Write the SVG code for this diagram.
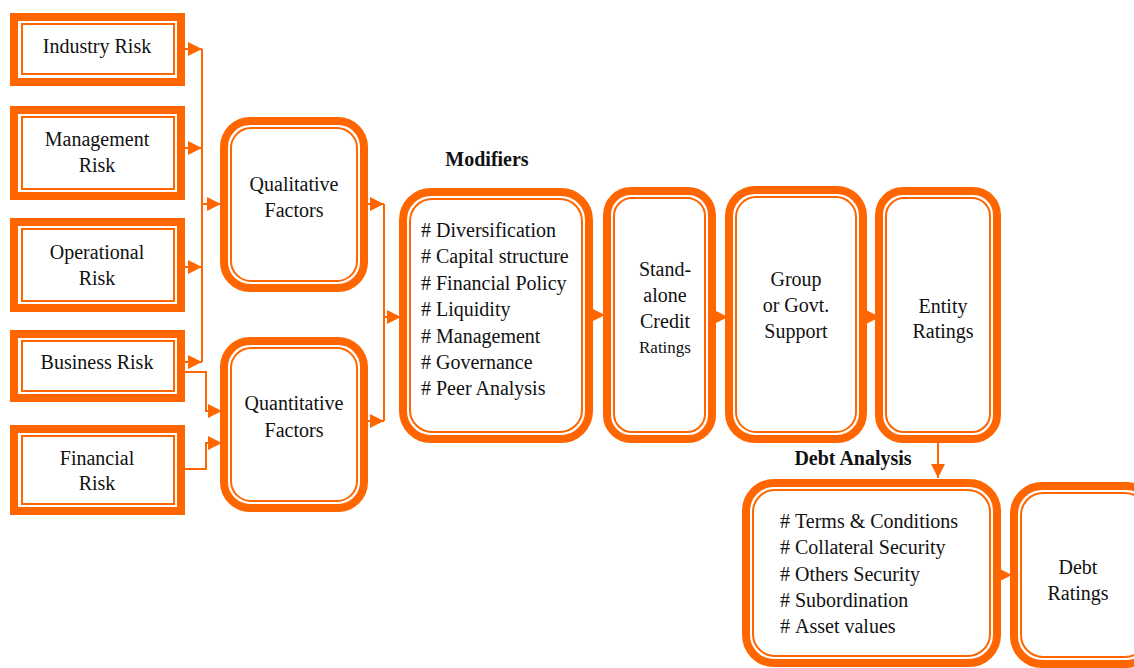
<svg xmlns="http://www.w3.org/2000/svg" width="1134" height="668" viewBox="0 0 1134 668">
<defs>
<style>
.thick{fill:none;stroke:#FF6600;stroke-width:8}
.thin{fill:none;stroke:#FF6600;stroke-width:2}
.t{font-family:"Liberation Serif","Times New Roman",serif;font-size:20px;fill:#111}
.c{text-anchor:middle}
.b{font-weight:bold}
.con{fill:none;stroke:#FF6600;stroke-width:2}
</style>
<marker id="arr" viewBox="0 0 14 14" refX="14" refY="7" markerWidth="14" markerHeight="14" markerUnits="userSpaceOnUse" orient="auto">
<path d="M0,0 L14,7 L0,14 Z" fill="#FF6600"/>
</marker>
</defs>
<rect width="1134" height="668" fill="#fff"/>

<g id="connectors">
<path class="con" d="M185,49 H202" marker-end="url(#arr)"/>
<path class="con" d="M185,148 H202" marker-end="url(#arr)"/>
<path class="con" d="M185,267 H202" marker-end="url(#arr)"/>
<path class="con" d="M185,362 H202" marker-end="url(#arr)"/>
<path class="con" d="M202,49 V362"/>
<path class="con" d="M202,204 H221" marker-end="url(#arr)"/>
<path class="con" d="M185,372 H206 V411 H222" marker-end="url(#arr)"/>
<path class="con" d="M185,469 H206 V443 H222" marker-end="url(#arr)"/>
<path class="con" d="M368,204 H384" marker-end="url(#arr)"/>
<path class="con" d="M368,421 H384" marker-end="url(#arr)"/>
<path class="con" d="M384,204 V421"/>
<path class="con" d="M384,317 H401" marker-end="url(#arr)"/>
<path class="con" d="M593,315 H605" marker-end="url(#arr)"/>
<path class="con" d="M716,317 H728" marker-end="url(#arr)"/>
<path class="con" d="M867,317 H880" marker-end="url(#arr)"/>
<path class="con" d="M938,443 V478" marker-end="url(#arr)"/>
<path class="con" d="M1001,575 H1012" marker-end="url(#arr)"/>
</g>

<g id="industry-risk">
<rect class="thick" x="14" y="17" width="167" height="65"/>
<rect class="thin" x="22" y="24" width="152" height="50"/>
<text class="t c" x="97" y="53">Industry Risk</text>
</g>
<g id="management-risk">
<rect class="thick" x="14" y="110" width="167" height="86"/>
<rect class="thin" x="22" y="117" width="152" height="72"/>
<text class="t c" x="97" y="146">Management</text>
<text class="t c" x="97" y="172">Risk</text>
</g>
<g id="operational-risk">
<rect class="thick" x="14" y="222" width="167" height="86"/>
<rect class="thin" x="22" y="229" width="152" height="72"/>
<text class="t c" x="97" y="259">Operational</text>
<text class="t c" x="97" y="285">Risk</text>
</g>
<g id="business-risk">
<rect class="thick" x="14" y="334" width="167" height="64"/>
<rect class="thin" x="22" y="341" width="152" height="50"/>
<text class="t c" x="97" y="369">Business Risk</text>
</g>
<g id="financial-risk">
<rect class="thick" x="14" y="429" width="167" height="82"/>
<rect class="thin" x="22" y="436" width="152" height="68"/>
<text class="t c" x="97" y="465">Financial</text>
<text class="t c" x="97" y="490">Risk</text>
</g>

<g id="qualitative">
<rect class="thick" x="224" y="121" width="140" height="167" rx="26"/>
<rect class="thin" x="231" y="128" width="126" height="153" rx="20"/>
<text class="t c" x="294" y="191">Qualitative</text>
<text class="t c" x="294" y="217">Factors</text>
</g>
<g id="quantitative">
<rect class="thick" x="224" y="341" width="140" height="167" rx="26"/>
<rect class="thin" x="231" y="348" width="126" height="153" rx="20"/>
<text class="t c" x="294" y="410">Quantitative</text>
<text class="t c" x="294" y="437">Factors</text>
</g>

<g id="modifiers">
<text class="t c b" x="487" y="166">Modifiers</text>
<rect class="thick" x="403" y="192" width="186" height="247" rx="28"/>
<rect class="thin" x="410" y="199" width="172" height="233" rx="22"/>
<text class="t" x="421" y="237">#&#160;Diversification</text>
<text class="t" x="421" y="263">#&#160;Capital structure</text>
<text class="t" x="421" y="290">#&#160;Financial Policy</text>
<text class="t" x="421" y="316">#&#160;Liquidity</text>
<text class="t" x="421" y="343">#&#160;Management</text>
<text class="t" x="421" y="369">#&#160;Governance</text>
<text class="t" x="421" y="395">#&#160;Peer Analysis</text>
</g>

<g id="standalone">
<rect class="thick" x="607" y="191" width="105" height="248" rx="24"/>
<rect class="thin" x="614" y="198" width="91" height="234" rx="18"/>
<text class="t c" x="665" y="276">Stand-</text>
<text class="t c" x="665" y="302">alone</text>
<text class="t c" x="665" y="328">Credit</text>
<text class="t c" x="665" y="353" style="font-size:17px">Ratings</text>
</g>

<g id="group-support">
<rect class="thick" x="729" y="190" width="134" height="249" rx="26"/>
<rect class="thin" x="736" y="197" width="120" height="235" rx="20"/>
<text class="t c" x="796" y="286">Group</text>
<text class="t c" x="796" y="312">or Govt.</text>
<text class="t c" x="796" y="338">Support</text>
</g>

<g id="entity-ratings">
<rect class="thick" x="879" y="191" width="118" height="248" rx="24"/>
<rect class="thin" x="886" y="198" width="104" height="234" rx="18"/>
<text class="t c" x="943" y="313">Entity</text>
<text class="t c" x="943" y="338">Ratings</text>
</g>

<g id="debt-analysis">
<text class="t c b" x="853" y="465">Debt Analysis</text>
<rect class="thick" x="746" y="483" width="251" height="180" rx="28"/>
<rect class="thin" x="753" y="490" width="237" height="166" rx="22"/>
<text class="t" x="780" y="528">#&#160;Terms &amp; Conditions</text>
<text class="t" x="780" y="554">#&#160;Collateral Security</text>
<text class="t" x="780" y="581">#&#160;Others Security</text>
<text class="t" x="780" y="607">#&#160;Subordination</text>
<text class="t" x="780" y="633">#&#160;Asset values</text>
</g>

<g id="debt-ratings">
<rect class="thick" x="1014" y="486" width="140" height="178" rx="28"/>
<rect class="thin" x="1021" y="493" width="126" height="164" rx="22"/>
<text class="t c" x="1078" y="574">Debt</text>
<text class="t c" x="1078" y="600">Ratings</text>
</g>
</svg>
